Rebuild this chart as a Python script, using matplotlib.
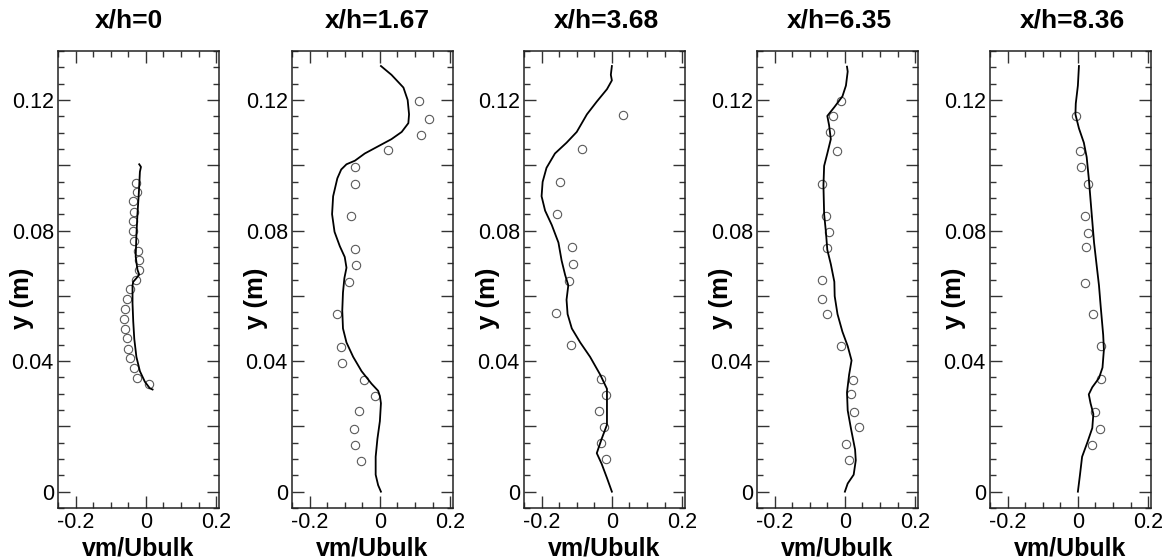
import numpy as np
import matplotlib
matplotlib.use("Agg")
import matplotlib.pyplot as plt
from matplotlib.ticker import MultipleLocator, FuncFormatter

plt.rcParams['font.family'] = ['Liberation Sans', 'DejaVu Sans']
plt.rcParams['axes.unicode_minus'] = False

stations = ["x/h=0", "x/h=1.67", "x/h=3.68", "x/h=6.35", "x/h=8.36"]

# simulation profiles (vm/Ubulk vs y)
sim_y_0 = [0.1003, 0.0995, 0.098, 0.0916, 0.085, 0.0785, 0.072, 0.068, 0.0665,
           0.0654, 0.0643, 0.0632, 0.0577, 0.0522, 0.0468, 0.0413, 0.0369,
           0.0337, 0.0317, 0.0313]
sim_v_0 = [-0.019, -0.014, -0.017, -0.020, -0.024, -0.027, -0.029, -0.024, -0.019,
           -0.027, -0.036, -0.038, -0.038, -0.036, -0.033, -0.027, -0.017,
           -0.003, 0.011, 0.019]

sim_y_1 = [0.1304, 0.1277, 0.1238, 0.120, 0.1156, 0.1129, 0.1102, 0.108, 0.1058,
           0.1036, 0.1014, 0.1003, 0.0987, 0.096, 0.0905, 0.085, 0.0796, 0.0752,
           0.0719, 0.0686, 0.0654, 0.061, 0.0555, 0.050, 0.0457, 0.0413, 0.0369,
           0.0331, 0.0309, 0.0293, 0.0271, 0.0216, 0.0162, 0.0107, 0.0052,
           0.002, 0.0]
sim_v_1 = [0.003, 0.033, 0.067, 0.079, 0.083, 0.081, 0.062, 0.033, -0.005,
           -0.043, -0.071, -0.095, -0.110, -0.121, -0.133, -0.136, -0.129, -0.114,
           -0.100, -0.095, -0.101, -0.105, -0.107, -0.105, -0.095, -0.076, -0.052,
           -0.024, -0.005, 0.0, 0.003, 0.0, -0.007, -0.012, -0.012,
           -0.005, 0.003]

sim_y_2 = [0.1304, 0.1277, 0.126, 0.1233, 0.1195, 0.1156, 0.1102, 0.1069, 0.1036,
           0.0992, 0.0949, 0.0905, 0.0861, 0.0817, 0.0763, 0.0708, 0.0664, 0.0632,
           0.0588, 0.0544, 0.050, 0.0457, 0.0413, 0.0358, 0.0315, 0.026, 0.0205,
           0.0162, 0.0118, 0.0085, 0.0042, 0.0]
sim_v_2 = [0.0, -0.003, 0.0, -0.014, -0.043, -0.071, -0.100, -0.129, -0.162,
           -0.186, -0.197, -0.200, -0.190, -0.171, -0.152, -0.143, -0.133, -0.124,
           -0.129, -0.126, -0.114, -0.090, -0.062, -0.033, -0.014, -0.014, -0.014,
           -0.029, -0.043, -0.029, -0.014, 0.0]

sim_y_3 = [0.1302, 0.1287, 0.1244, 0.1211, 0.1178, 0.1151, 0.1123, 0.108, 0.1036,
           0.0998, 0.0938, 0.085, 0.0796, 0.0741, 0.0697, 0.0643, 0.0599, 0.0544,
           0.049, 0.0446, 0.0402, 0.0358, 0.0304, 0.0249, 0.0195, 0.0129, 0.0096,
           0.0052, 0.0025, 0.0]
sim_v_3 = [0.006, 0.008, 0.003, -0.007, -0.030, -0.050, -0.045, -0.040, -0.050,
           -0.059, -0.061, -0.059, -0.054, -0.050, -0.040, -0.030, -0.029, -0.021,
           -0.007, 0.008, 0.019, 0.012, 0.006, 0.008, 0.017, 0.029, 0.031,
           0.025, 0.008, 0.0]

sim_y_4 = [0.1304, 0.1244, 0.1189, 0.1156, 0.1113, 0.1069, 0.1025, 0.096, 0.0894,
           0.0828, 0.0763, 0.0697, 0.0632, 0.0566, 0.048, 0.0435, 0.038, 0.0348,
           0.032, 0.0298, 0.0271, 0.0238, 0.0195, 0.0151, 0.0107, 0.0052, 0.0]
sim_v_4 = [0.003, 0.0, -0.006, -0.007, 0.003, 0.017, 0.025, 0.031, 0.036,
           0.041, 0.046, 0.053, 0.060, 0.065, 0.072, 0.074, 0.070, 0.060,
           0.041, 0.031, 0.036, 0.044, 0.041, 0.027, 0.012, 0.006, 0.0]

# measured points
exp_y_0 = [0.0946, 0.0919, 0.0889, 0.0858, 0.0828, 0.0799, 0.0768, 0.0738, 0.0710,
           0.0678, 0.0648, 0.0621, 0.0590, 0.0560, 0.0530, 0.0498, 0.0470, 0.0438,
           0.0410, 0.0378, 0.0348, 0.0329]
exp_v_0 = [-0.029, -0.025, -0.036, -0.033, -0.038, -0.036, -0.034, -0.022, -0.021,
           -0.021, -0.029, -0.044, -0.055, -0.060, -0.062, -0.060, -0.055, -0.050,
           -0.046, -0.034, -0.025, 0.010]

exp_y_1 = [0.1197, 0.1142, 0.1094, 0.1046, 0.0996, 0.0943, 0.0844, 0.0744, 0.0694,
           0.0643, 0.0543, 0.0444, 0.0395, 0.0341, 0.0293, 0.0246, 0.0191, 0.0143,
           0.0094]
exp_v_1 = [0.110, 0.140, 0.116, 0.024, -0.070, -0.071, -0.081, -0.070, -0.067,
           -0.088, -0.122, -0.111, -0.109, -0.046, -0.014, -0.058, -0.074, -0.070,
           -0.055]

exp_y_2 = [0.1154, 0.1049, 0.0949, 0.0852, 0.0750, 0.0698, 0.0646, 0.0546, 0.0448,
           0.0345, 0.0297, 0.0247, 0.0198, 0.0148, 0.0099]
exp_v_2 = [0.033, -0.085, -0.147, -0.157, -0.114, -0.110, -0.122, -0.158, -0.117,
           -0.030, -0.017, -0.036, -0.023, -0.030, -0.017]

exp_y_3 = [0.1197, 0.1150, 0.1102, 0.1045, 0.0943, 0.0846, 0.0796, 0.0745, 0.0647,
           0.0590, 0.0544, 0.0446, 0.0342, 0.0298, 0.0244, 0.0197, 0.0146, 0.0098]
exp_v_3 = [-0.010, -0.035, -0.042, -0.023, -0.066, -0.053, -0.045, -0.051, -0.064,
           -0.064, -0.050, -0.010, 0.024, 0.017, 0.025, 0.039, 0.004, 0.013]

exp_y_4 = [0.1150, 0.1043, 0.0996, 0.0942, 0.0844, 0.0791, 0.0749, 0.0640, 0.0544,
           0.0446, 0.0346, 0.0244, 0.0192, 0.0144]
exp_v_4 = [-0.004, 0.007, 0.009, 0.030, 0.019, 0.029, 0.024, 0.021, 0.043,
           0.066, 0.066, 0.050, 0.063, 0.040]

sim_v = [sim_v_0, sim_v_1, sim_v_2, sim_v_3, sim_v_4]
sim_y = [sim_y_0, sim_y_1, sim_y_2, sim_y_3, sim_y_4]
exp_v = [exp_v_0, exp_v_1, exp_v_2, exp_v_3, exp_v_4]
exp_y = [exp_y_0, exp_y_1, exp_y_2, exp_y_3, exp_y_4]


def y_label_fmt(val, pos):
    # label only every other major tick
    k = int(round(val / 0.02))
    if k % 2 != 0:
        return ""
    if k == 0:
        return "0"
    return f"{val:.2f}"


def x_label_fmt(val, pos):
    if abs(val) < 1e-9:
        return "0"
    return f"{val:.1f}"


W, H = 1173, 560
fig = plt.figure(figsize=(W / 100, H / 100), dpi=100)

lefts = [58, 292, 524, 757, 990]
title_shift = [-10, 5, 2, 2, 2]
ax_w = 161
ax_top, ax_bot = 51, 508
ax_h = ax_bot - ax_top

for i in range(5):
    ax = fig.add_axes([lefts[i] / W, 1 - ax_bot / H, ax_w / W, ax_h / H])

    ax.plot(sim_v[i], sim_y[i], color="black", lw=1.3, zorder=3)
    ax.plot(exp_v[i], exp_y[i], linestyle="none", marker="o", ms=6,
            mfc="none", mec="#5a5a5a", mew=0.8, zorder=2)

    ax.set_xlim(-0.25, 0.208)
    ax.set_ylim(-0.005, 0.135)

    ax.xaxis.set_major_locator(MultipleLocator(0.2))
    ax.xaxis.set_minor_locator(MultipleLocator(0.05))
    ax.yaxis.set_major_locator(MultipleLocator(0.02))
    ax.yaxis.set_minor_locator(MultipleLocator(0.005))
    ax.xaxis.set_major_formatter(FuncFormatter(x_label_fmt))
    ax.yaxis.set_major_formatter(FuncFormatter(y_label_fmt))

    ax.tick_params(which="both", direction="in", top=True, right=True,
                   width=1.0, color="#333333")
    ax.tick_params(which="major", length=8.5, labelsize=15.5)
    ax.tick_params(which="minor", length=4.5)
    ax.tick_params(axis="x", which="major", pad=3)
    ax.tick_params(axis="y", which="major", pad=3)

    for sp in ax.spines.values():
        sp.set_linewidth(1.1)
        sp.set_color("#222222")

    ax.set_title(stations[i], fontsize=19, fontweight="bold", pad=0,
                 x=0.5 + title_shift[i] / ax_w, y=1 + (ax_top - 20) / ax_h,
                 va="center")

    ax.set_xlabel("vm/Ubulk", fontsize=18, fontweight="bold")
    ax.xaxis.set_label_coords(0.5, -(555 - ax_bot) / ax_h)
    ax.xaxis.label.set_va("baseline")

    ax.set_ylabel("y (m)", fontsize=18.5, fontweight="bold")
    ax.yaxis.set_label_coords(-(58 - 22) / ax_w, (ax_bot - 298) / ax_h)
    ax.yaxis.label.set_va("center")

fig.savefig("out.png", dpi=100)
